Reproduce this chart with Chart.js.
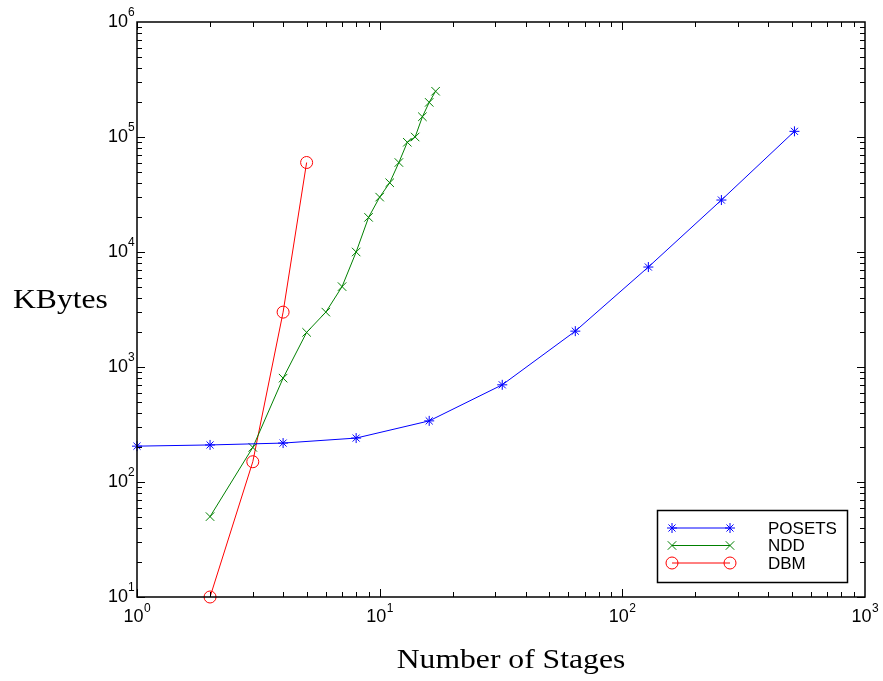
<!DOCTYPE html>
<html>
<head>
<meta charset="utf-8">
<script src="https://cdn.jsdelivr.net/npm/chart.js@4/dist/chart.umd.min.js"></script>
<style>
    html, body { margin: 0; padding: 0; background: #fff; }
    #wrap { width: 883px; height: 681px; }
</style>
</head>
<body>
<div id="wrap"><canvas id="stagesChart" width="883" height="681"></canvas></div>
<script>
// stages (x) and memory in KBytes (y)
const posetsStages = [1, 2, 4, 8, 16, 32, 64, 128, 256, 512];
const posetsKB = [205, 210, 218, 241, 340, 700, 2050, 7400, 28300, 112000];

const nddStages = [2, 3, 4, 5, 6, 7, 8, 9, 10, 11, 12, 13, 14, 15, 16, 17];
const nddKB = [50, 200, 800, 2000, 3000, 5000, 10000, 20000, 30000, 40000, 60000, 90000, 100000, 150000, 200000, 250000];

const dbmStages = [2, 3, 4, 5];
const dbmKB = [10, 150, 3000, 60000];

const xTickExps = [0, 1, 2, 3];
const yTickExps = [1, 2, 3, 4, 5, 6];

function toPoints(xs, ys) {
    return xs.map((x, i) => ({ x: x, y: ys[i] }));
}

const series = [
    { label: 'POSETS', color: '#0000ff', style: 'star', radius: 5, data: toPoints(posetsStages, posetsKB) },
    { label: 'NDD', color: '#008000', style: 'crossRot', radius: 6, data: toPoints(nddStages, nddKB) },
    { label: 'DBM', color: '#ff0000', style: 'circle', radius: 6, data: toPoints(dbmStages, dbmKB) }
];

// draw text a bit wider than the font, like the original figure
function wideText(ctx, text, x, y, sx) {
    ctx.save();
    ctx.translate(x, y);
    ctx.scale(sx, 1);
    ctx.fillText(text, 0, 0);
    ctx.restore();
}

// frame, inward ticks, tick labels, axis titles and legend
const matlabAxes = {
    id: 'matlabAxes',
    afterDraw(chart) {
        const ctx = chart.ctx;
        const area = chart.chartArea;
        const xs = chart.scales.x;
        const ys = chart.scales.y;
        ctx.save();
        ctx.strokeStyle = '#000';
        ctx.lineWidth = 1.5;
        ctx.strokeRect(Math.round(area.left), Math.round(area.top),
            Math.round(area.right - area.left), Math.round(area.bottom - area.top));

        ctx.lineWidth = 1;
        ctx.beginPath();
        // x ticks
        for (let e = 0; e < 3; e++) {
            for (let m = 1; m < 10; m++) {
                const px = Math.round(xs.getPixelForValue(m * Math.pow(10, e))) + 0.5;
                const len = m === 1 ? 8 : 5;
                ctx.moveTo(px, area.bottom); ctx.lineTo(px, area.bottom - len);
                ctx.moveTo(px, area.top); ctx.lineTo(px, area.top + len);
            }
        }
        // y ticks
        for (let e = 1; e < 6; e++) {
            for (let m = 1; m < 10; m++) {
                const py = Math.round(ys.getPixelForValue(m * Math.pow(10, e))) + 0.5;
                const len = m === 1 ? 8 : 5;
                ctx.moveTo(area.left, py); ctx.lineTo(area.left + len, py);
                ctx.moveTo(area.right, py); ctx.lineTo(area.right - len, py);
            }
        }
        ctx.stroke();

        ctx.fillStyle = '#000';
        ctx.textBaseline = 'middle';
        // y tick labels
        yTickExps.forEach(e => {
            const py = ys.getPixelForValue(Math.pow(10, e));
            ctx.font = '12px "Liberation Sans", Arial, sans-serif';
            ctx.textAlign = 'left';
            ctx.fillText(String(e), 128, py - 9);
            ctx.font = '18px "Liberation Sans", Arial, sans-serif';
            ctx.textAlign = 'right';
            ctx.fillText('10', 128, py);
        });
        // x tick labels
        xTickExps.forEach(e => {
            const px = xs.getPixelForValue(Math.pow(10, e));
            ctx.font = '18px "Liberation Sans", Arial, sans-serif';
            ctx.textAlign = 'center';
            ctx.fillText('10', px - 3.5, 617);
            ctx.font = '12px "Liberation Sans", Arial, sans-serif';
            ctx.textAlign = 'left';
            ctx.fillText(String(e), px + 7, 609);
        });

        // axis titles
        ctx.font = '28px "Liberation Serif", "Times New Roman", serif';
        ctx.textBaseline = 'alphabetic';
        ctx.textAlign = 'left';
        wideText(ctx, 'KBytes', 13, 308, 1.13);
        ctx.textAlign = 'center';
        wideText(ctx, 'Number of Stages', 511, 668, 1.13);

        // legend
        const lx = 657, ly = 510, lw = 190, lh = 72;
        ctx.textBaseline = 'middle';
        ctx.fillStyle = '#fff';
        ctx.fillRect(lx, ly, lw, lh);
        ctx.strokeStyle = '#000';
        ctx.lineWidth = 1.5;
        ctx.strokeRect(lx + 0.5, ly + 0.5, lw, lh);
        series.forEach((s, i) => {
            const y = ly + 18 + i * 17.5;
            ctx.strokeStyle = s.color;
            ctx.lineWidth = 1;
            ctx.beginPath();
            ctx.moveTo(672, y); ctx.lineTo(730, y);
            ctx.stroke();
            ctx.fillStyle = 'rgba(0,0,0,0)';
            [672, 730].forEach(px => {
                Chart.helpers.drawPoint(ctx, {
                    pointStyle: s.style, radius: s.radius, rotation: 0, borderWidth: 1
                }, px, y);
            });
            ctx.fillStyle = '#000';
            ctx.font = '17px "Liberation Sans", Arial, sans-serif';
            ctx.textAlign = 'left';
            ctx.fillText(s.label, 768, y + 1);
        });
        ctx.restore();
    }
};

new Chart(document.getElementById('stagesChart').getContext('2d'), {
    type: 'line',
    data: {
        datasets: series.map(s => ({
            label: s.label,
            data: s.data,
            borderColor: s.color,
            borderWidth: 1,
            pointStyle: s.style,
            pointRadius: s.radius,
            pointBorderColor: s.color,
            pointBorderWidth: 1,
            pointBackgroundColor: 'rgba(0,0,0,0)',
            tension: 0,
            fill: false,
            clip: false
        }))
    },
    options: {
        responsive: false,
        animation: false,
        events: [],
        layout: { padding: { left: 137, right: 18, top: 22, bottom: 84 } },
        plugins: { legend: { display: false }, tooltip: { enabled: false } },
        scales: {
            x: { type: 'logarithmic', min: 1, max: 1000, display: false },
            y: { type: 'logarithmic', min: 10, max: 1000000, display: false }
        }
    },
    plugins: [matlabAxes]
});
</script>
</body>
</html>
